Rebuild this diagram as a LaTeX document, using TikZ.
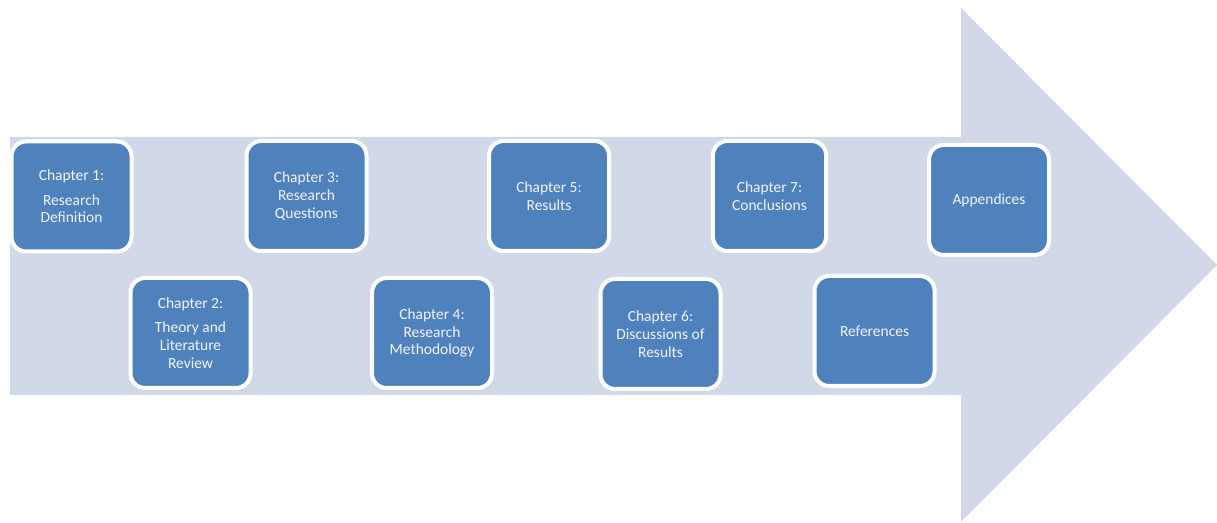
\documentclass[tikz,border=0pt]{standalone}
\usepackage{fontspec}
\setmainfont{Carlito}
\definecolor{arrowfill}{HTML}{D1D9E8}
\definecolor{boxfill}{HTML}{4F81BD}
\definecolor{boxtext}{HTML}{F2F5FA}

\begin{document}
\begin{tikzpicture}[x=0.75pt, y=-0.75pt,
    chap/.style={rectangle, rounded corners=11pt, draw=white, line width=3pt, fill=boxfill,
      minimum width=90pt, minimum height=82.5pt, inner sep=2pt, align=center,
      text=boxtext, font=\fontsize{11.6pt}{13.3pt}\selectfont}]
  \useasboundingbox (0,0) rectangle (1217,523);

  % the big arrow behind the boxes
  \fill[arrowfill] (10,137) -- (961,137) -- (961,8) -- (1217,265) -- (961,522)
    -- (961,395) -- (10,395) -- cycle;

  \node[chap] at (71.5, 196.5) (ch1) {Chapter 1:\\[5pt]Research\\Definition};
  \node[chap] at (190.5, 333)  (ch2) {Chapter 2:\\[5pt]Theory and\\Literature\\Review};
  \node[chap] at (306.5, 196)  (ch3) {Chapter 3:\\Research\\Questions};
  \node[chap] at (432, 333)    (ch4) {Chapter 4:\\Research\\Methodology};
  \node[chap] at (549, 196)    (ch5) {Chapter 5:\\Results};
  \node[chap] at (660.5, 334)  (ch6) {Chapter 6:\\Discussions of\\Results};
  \node[chap, minimum width=85pt] at (769.5, 196) (ch7) {Chapter 7:\\Conclusions};
  \node[chap] at (874.5, 331)  (refs) {References};
  \node[chap] at (989, 200)    (app)  {Appendices};
\end{tikzpicture}
\end{document}
